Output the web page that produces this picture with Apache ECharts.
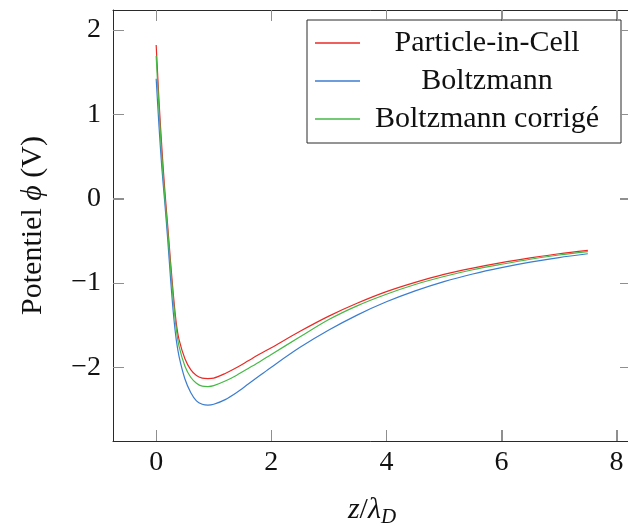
<!DOCTYPE html>
<html>
<head>
<meta charset="utf-8">
<script src="https://cdn.jsdelivr.net/npm/echarts@6/dist/echarts.min.js"></script>
<style>html,body{margin:0;padding:0;background:#fff}#c{width:628px;height:526px}</style>
</head>
<body>
<div id="c"></div>
<script>
const zValues = [0, 0.05, 0.1, 0.15, 0.2, 0.25, 0.3, 0.35, 0.4, 0.5, 0.6, 0.7, 0.8, 0.9, 1.0, 1.2, 1.4, 1.6, 1.8, 2.0, 2.5, 3.0, 3.5, 4.0, 4.5, 5.0, 5.5, 6.0, 6.5, 7.0, 7.5];
const picValues = [1.82, 1.15, 0.59, 0.10, -0.32, -0.75, -1.15, -1.48, -1.68, -1.90, -2.03, -2.10, -2.13, -2.135, -2.13, -2.075, -2.005, -1.925, -1.845, -1.77, -1.575, -1.395, -1.24, -1.105, -0.995, -0.90, -0.825, -0.76, -0.705, -0.655, -0.615];
const boltzValues = [1.42, 0.85, 0.35, -0.05, -0.48, -0.95, -1.37, -1.68, -1.88, -2.14, -2.30, -2.40, -2.44, -2.45, -2.44, -2.385, -2.30, -2.20, -2.10, -2.00, -1.765, -1.56, -1.38, -1.225, -1.095, -0.985, -0.895, -0.82, -0.755, -0.70, -0.655];
const corrValues = [1.69, 1.05, 0.48, 0.02, -0.38, -0.82, -1.22, -1.55, -1.76, -1.99, -2.12, -2.19, -2.225, -2.23, -2.22, -2.165, -2.095, -2.015, -1.935, -1.85, -1.64, -1.435, -1.27, -1.135, -1.02, -0.925, -0.845, -0.78, -0.72, -0.67, -0.63];
const seriesNames = ['Particle-in-Cell', 'Boltzmann', 'Boltzmann corrigé'];
const xTicks = [0, 2, 4, 6, 8];
const yTicks = [-2, -1, 0, 1, 2];

const FONT = '"Liberation Serif", "DejaVu Serif", serif';
const colors = ['#ea2a26', '#3b7dd0', '#46b946'];
const pair = (vals) => zValues.map((z, i) => [z, vals[i]]);

const chart = echarts.init(document.getElementById('c'), null, {renderer: 'canvas'});
const xMin = -0.75, xMax = 8.25, yMin = -2.876, yMax = 2.236;
const GRID = {left: 113, top: 10, width: 518, height: 431};
const TICK_LEN = 11, TICK_COLOR = '#8f8f8f';
const minus = v => String(v).replace('-', '\u2212');
const mkLine = () => ({show: true, onZero: false, lineStyle: {color: '#2a2a2a', width: 1}});
const mkTick = (vals) => ({show: true, inside: true, length: TICK_LEN, customValues: vals, lineStyle: {color: TICK_COLOR, width: 1}});

chart.setOption({
  animation: false,
  backgroundColor: '#fff',
  color: colors,
  grid: Object.assign({containLabel: false, outerBoundsMode: 'none'}, GRID),
  xAxis: [{
    type: 'value', min: xMin, max: xMax, position: 'bottom',
    axisLine: mkLine(),
    axisTick: mkTick(xTicks),
    axisLabel: {customValues: xTicks, margin: 8, fontFamily: FONT, fontSize: 28, color: '#111', formatter: minus},
    splitLine: {show: false},
    name: '{i|z}/{i|λ}{sub|D}', nameLocation: 'middle', nameGap: 52,
    nameTextStyle: {fontFamily: FONT, fontSize: 30, color: '#111',
      rich: {i: {fontFamily: FONT, fontSize: 30, fontStyle: 'italic', color: '#111'},
             sub: {fontFamily: FONT, fontSize: 21, fontStyle: 'italic', color: '#111', padding: [14, 0, 0, 0]}}}
  }, {
    type: 'value', min: xMin, max: xMax, position: 'top',
    axisLine: mkLine(),
    axisTick: mkTick(xTicks),
    axisLabel: {show: false, customValues: xTicks}, splitLine: {show: false}
  }],
  yAxis: [{
    type: 'value', min: yMin, max: yMax, position: 'left',
    axisLine: mkLine(),
    axisTick: mkTick(yTicks),
    axisLabel: {customValues: yTicks, margin: 12, fontFamily: FONT, fontSize: 28, color: '#111', formatter: minus},
    splitLine: {show: false},
    name: 'Potentiel {i|ϕ} (V)', nameLocation: 'middle', nameGap: 65, nameRotate: 90,
    nameTextStyle: {fontFamily: FONT, fontSize: 30, color: '#111',
      rich: {i: {fontFamily: FONT, fontSize: 30, fontStyle: 'italic', color: '#111'}}}
  }, {
    type: 'value', min: yMin, max: yMax, position: 'right',
    axisLine: mkLine(),
    axisTick: mkTick(yTicks),
    axisLabel: {show: false, customValues: yTicks}, splitLine: {show: false}
  }],
  legend: {
    orient: 'vertical', left: 307, top: 20,
    data: seriesNames.map(n => ({name: n, icon: 'rect'})),
    padding: [8, 12, 9, 8],
    itemGap: 8, itemWidth: 45, itemHeight: 1.3,
    borderColor: '#2a2a2a', borderWidth: 1,
    formatter: n => '{c|' + n + '}',
    textStyle: {fontFamily: FONT, fontSize: 30, color: '#111',
      rich: {c: {fontFamily: FONT, fontSize: 30, color: '#111', width: 244, align: 'center', lineHeight: 31}}}
  },
  series: seriesNames.map((name, k) => ({
    name, type: 'line', xAxisIndex: 0, yAxisIndex: 0,
    data: pair([picValues, boltzValues, corrValues][k]),
    symbol: 'none', smooth: 0.3,
    lineStyle: {width: 1.2, color: colors[k]}, itemStyle: {color: colors[k]}
  }))
});

// Mirrored inside tick marks, placed through the chart's own axis scales.
(function () {
  const gTop = GRID.top, gBottom = GRID.top + GRID.height;
  const gLeft = GRID.left, gRight = GRID.left + GRID.width;
  const els = [];
  const seg = (x1, y1, x2, y2) => ({type: 'line', silent: true, z: 10,
    shape: {x1: x1, y1: y1, x2: x2, y2: y2}, style: {stroke: TICK_COLOR, lineWidth: 1}});
  xTicks.forEach(v => {
    const px = Math.round(chart.convertToPixel({xAxisIndex: 0}, v)) + 0.5;
    els.push(seg(px, gBottom, px, gBottom - TICK_LEN));
    els.push(seg(px, gTop, px, gTop + TICK_LEN));
  });
  yTicks.forEach(v => {
    const py = Math.round(chart.convertToPixel({yAxisIndex: 0}, v)) + 0.5;
    els.push(seg(gLeft, py, gLeft + TICK_LEN, py));
    els.push(seg(gRight, py, gRight - TICK_LEN, py));
  });
  chart.setOption({graphic: {elements: els}});
})();
</script>
</body>
</html>
